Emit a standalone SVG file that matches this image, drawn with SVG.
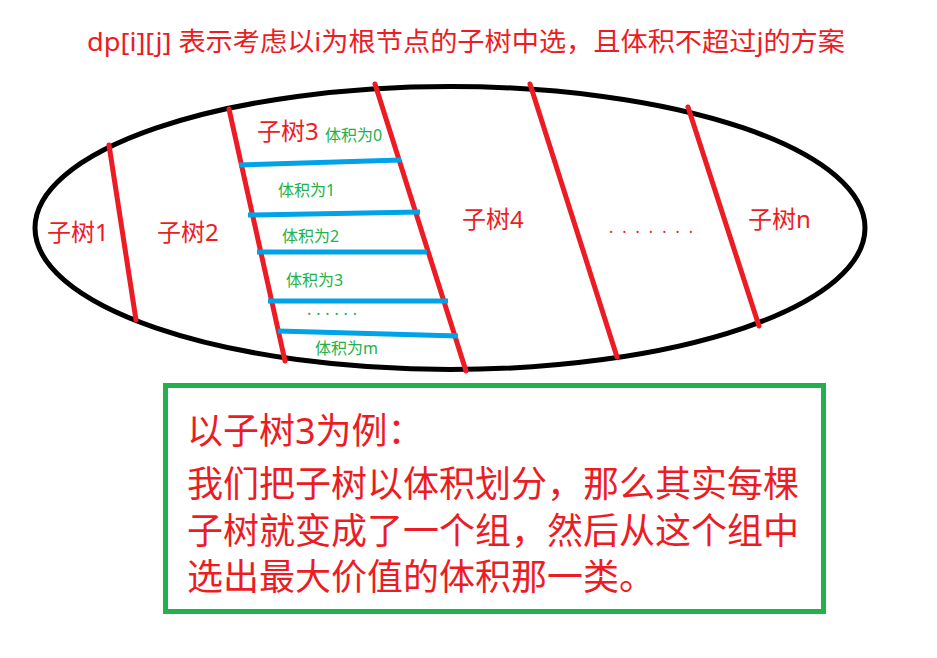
<svg xmlns="http://www.w3.org/2000/svg" width="937" height="658" viewBox="0 0 937 658">
<style>
text{font-family:"Noto Sans","Noto Sans CJK SC",sans-serif}
.red{fill:#ED1C24}
.grn{fill:#22B14C}
.rl{stroke:#ED1C24;stroke-width:5;stroke-linecap:round;fill:none}
.bl{stroke:#00A2E8;stroke-width:5;stroke-linecap:butt;fill:none}
.lbl{font-size:24px}
.small{font-size:16px}
.big{font-size:36px}
</style>
<rect width="937" height="658" fill="#fff"/>
<g id="title">
<text class="red" x="87" y="51" font-size="26" textLength="758" lengthAdjust="spacingAndGlyphs">dp[i][j] 表示考虑以i为根节点的子树中选，且体积不超过j的方案</text>
</g>
<g id="tree">
<ellipse cx="450" cy="228" rx="415" ry="141.5" fill="none" stroke="#000" stroke-width="5"/>
</g>
<g id="dividers">
<line class="rl" x1="109" y1="145" x2="136" y2="320"/>
<line class="rl" x1="229" y1="109" x2="285" y2="361"/>
<line class="rl" x1="375" y1="84" x2="466" y2="371"/>
<line class="rl" x1="530" y1="84" x2="617" y2="357"/>
<line class="rl" x1="688" y1="107" x2="759" y2="326"/>
</g>
<g id="volume-lines">
<line class="bl" x1="239" y1="165" x2="401" y2="160"/>
<line class="bl" x1="248" y1="215" x2="420" y2="212"/>
<line class="bl" x1="257" y1="252" x2="427" y2="252"/>
<line class="bl" x1="268" y1="301" x2="448" y2="301"/>
<line class="bl" x1="278" y1="331" x2="458" y2="336"/>
</g>
<g id="subtree-labels">
<text class="red lbl" x="47" y="241">子树1</text>
<text class="red lbl" x="157" y="241">子树2</text>
<text class="red lbl" x="257" y="140">子树3</text>
<text class="red lbl" x="462" y="228">子树4</text>
<text class="red small" x="609" y="233" textLength="84" lengthAdjust="spacing">.......</text>
<text class="red lbl" x="748" y="228">子树n</text>
</g>
<g id="volume-labels">
<text class="grn small" x="325" y="141">体积为0</text>
<text class="grn small" x="278" y="196">体积为1</text>
<text class="grn small" x="282" y="242">体积为2</text>
<text class="grn small" x="286" y="286">体积为3</text>
<text class="grn small" x="307" y="315" textLength="50" lengthAdjust="spacing">......</text>
<text class="grn small" x="315" y="354">体积为m</text>
</g>
<g id="note">
<rect x="165.5" y="385.5" width="658" height="226" fill="none" stroke="#22B14C" stroke-width="5"/>
<text class="red big" x="187" y="444">以子树3为例：</text>
<text class="red big" x="187" y="497">我们把子树以体积划分，那么其实每棵</text>
<text class="red big" x="187" y="544">子树就变成了一个组，然后从这个组中</text>
<text class="red big" x="187" y="590">选出最大价值的体积那一类。</text>
</g>
</svg>
